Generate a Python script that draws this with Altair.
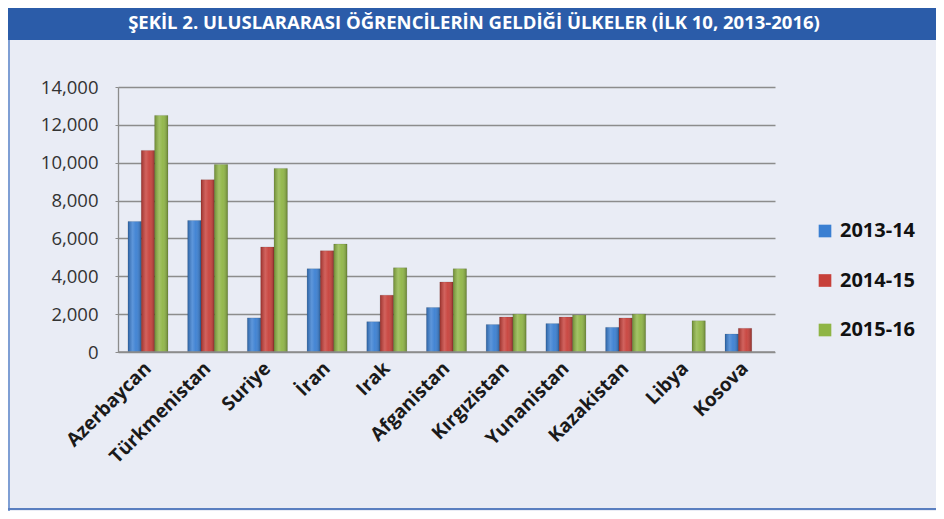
import altair as alt
import pandas as pd

countries = ["Azerbaycan", "Türkmenistan", "Suriye", "İran", "Irak", "Afganistan",
             "Kırgızistan", "Yunanistan", "Kazakistan", "Libya", "Kosova"]
years = ["2013-14", "2014-15", "2015-16"]
v2013 = [6900, 6950, 1800, 4400, 1600, 2350, 1450, 1500, 1300, None, 950]
v2014 = [10650, 9100, 5550, 5350, 3000, 3700, 1850, 1850, 1800, None, 1250]
v2015 = [12500, 9900, 9700, 5700, 4450, 4400, 2000, 1950, 2000, 1650, None]
y_ticks = [0, 2000, 4000, 6000, 8000, 10000, 12000, 14000]
colors = ["#3a7fd2", "#c7403a", "#8fb545"]
title_text = "ŞEKİL 2. ULUSLARARASI ÖĞRENCİLERİN GELDİĞİ ÜLKELER (İLK 10, 2013-2016)"

rows = []
for yr, vals in zip(years, [v2013, v2014, v2015]):
    for c, v in zip(countries, vals):
        if v is not None:
            rows.append({"country": c, "year": yr, "value": v})
df = pd.DataFrame(rows)

W, H = 657, 265
PL, PT = 110, 79
TOTAL_W, TOTAL_H = 928, 503

x_enc = alt.X("country:N", sort=countries,
              scale=alt.Scale(paddingInner=0.33, paddingOuter=0.167),
              axis=alt.Axis(title=None, labelAngle=-45, labelAlign="right",
                            labelBaseline="middle", labelFont="Open Sans",
                            labelFontWeight="bold", labelFontSize=19,
                            labelColor="#1a1a1a", labelPadding=13, ticks=False,
                            domain=False, labelOverlap=False))
xo_enc = alt.XOffset("year:N", sort=years, scale=alt.Scale(paddingInner=0, paddingOuter=0))
y_enc = alt.Y("value:Q", scale=alt.Scale(domain=[0, 14000], nice=False),
              axis=alt.Axis(title=None, values=y_ticks, format=",d",
                            labelFont="Open Sans", labelFontSize=18.5, labelColor="#333333",
                            labelPadding=17, labelOverlap=False, gridColor="#8c8c8c",
                            gridWidth=1.3, domainColor="#8c8c8c", domainWidth=1.3,
                            tickColor="#8c8c8c", tickSize=3))

bars = alt.Chart(df).mark_bar(stroke="#00000030", strokeWidth=0.6).encode(
    x=x_enc, xOffset=xo_enc, y=y_enc,
    color=alt.Color("year:N", sort=years,
                    scale=alt.Scale(domain=years, range=colors),
                    legend=alt.Legend(title=None, orient="none", legendX=697, legendY=134,
                                      symbolType="square", symbolSize=160,
                                      symbolStrokeWidth=0, labelFont="Open Sans",
                                      labelFontWeight="bold", labelFontSize=20,
                                      labelColor="#111111", rowPadding=29.5,
                                      labelOffset=5)),
)

shade = alt.Chart(df).mark_bar(fill={
    "gradient": "linear", "x1": 0, "x2": 1, "y1": 0, "y2": 0,
    "stops": [
        {"offset": 0, "color": "rgba(0,0,0,0.22)"},
        {"offset": 0.35, "color": "rgba(255,255,255,0.18)"},
        {"offset": 0.6, "color": "rgba(255,255,255,0.05)"},
        {"offset": 1, "color": "rgba(0,0,0,0.28)"},
    ]}).encode(x=x_enc, xOffset=xo_enc, y=y_enc)

baseline = alt.Chart(pd.DataFrame({"value": [0]})).mark_rule(color="#8c8c8c", strokeWidth=1.3).encode(
    y=y_enc, x=alt.value(0), x2=alt.value(W))

banner = alt.Chart(pd.DataFrame({"t": [title_text]})).mark_rect(color="#2b5ca9").encode(
    x=alt.value(-PL), x2=alt.value(TOTAL_W - PL), y=alt.value(-PT), y2=alt.value(-PT + 32))

title = alt.Chart(pd.DataFrame({"t": [title_text]})).mark_text(
    color="white", font="Open Sans", fontWeight="bold", fontSize=18.5,
    align="center", baseline="middle").encode(
    text="t:N", x=alt.value(356), y=alt.value(-PT + 15))

left_border = alt.Chart(pd.DataFrame({"t": [0]})).mark_rule(color="#7f9fd4", strokeWidth=2).encode(
    x=alt.value(-PL + 1), y=alt.value(-PT + 32), y2=alt.value(TOTAL_H - PT))
bottom_border = alt.Chart(pd.DataFrame({"t": [0]})).mark_rule(color="#5a7fc0", strokeWidth=2).encode(
    x=alt.value(-PL), x2=alt.value(TOTAL_W - PL), y=alt.value(TOTAL_H - PT - 2))

chart = alt.layer(banner, title, left_border, bottom_border, bars, shade, baseline).properties(
    width=W, height=H,
    autosize=alt.AutoSizeParams(type="none"),
    padding={"left": PL, "top": PT, "right": TOTAL_W - PL - W, "bottom": TOTAL_H - PT - H},
    background="#e9ecf5",
).configure_view(stroke=None)

chart.save("out.html", embed_options={"renderer": "svg", "actions": False})
